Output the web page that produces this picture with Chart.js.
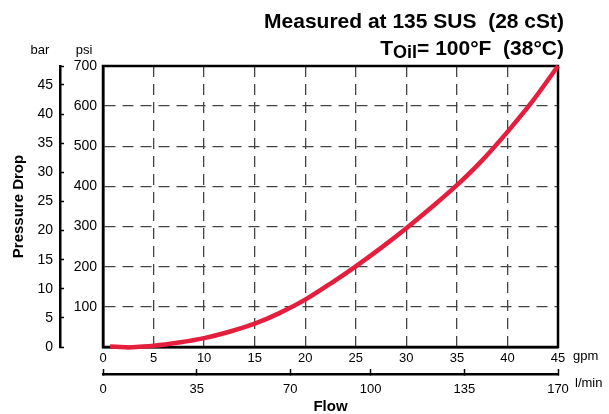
<!DOCTYPE html>
<html>
<head>
<meta charset="utf-8">
<script src="https://cdn.jsdelivr.net/npm/chart.js@4.4.1/dist/chart.umd.min.js"></script>
<style>
  html, body { margin: 0; padding: 0; background: #fff; }
  #wrap { width: 609px; height: 414px; }
</style>
</head>
<body>
<div id="wrap"><canvas class="js-pressuredrop"></canvas></div>
<script>
// values
const flowGpm = [0.7, 2.5, 5, 7.5, 10, 12.5, 15, 17.5, 20, 22.5, 25, 27.5, 30, 32.5, 35, 37.5, 40, 42.5, 45];
const pressurePsi = [1, -1, 3, 11, 22, 38, 58, 85, 118, 158, 201, 247, 296, 348, 403, 465, 536, 613, 700];

const barTicks = [0, 5, 10, 15, 20, 25, 30, 35, 40, 45];
const lminTicks = [0, 35, 70, 100, 135, 170];
const psiPerBar = 14.5038;

const titleLine1 = "Measured at 135 SUS  (28 cSt)";
const titleLine2 = ["T", "Oil", "= 100°F  (38°C)"];

const FONT = "'Liberation Sans', Arial, Helvetica, sans-serif";

const extras = {
  id: "extras",
  beforeDatasetsDraw(chart) {
    const { ctx, chartArea: a } = chart;
    ctx.save();
    ctx.strokeStyle = "#000";
    ctx.lineWidth = 2.5;
    ctx.strokeRect(a.left, a.top, a.right - a.left, a.bottom - a.top);
    ctx.restore();
  },
  afterDraw(chart) {
    const { ctx, chartArea: a, scales } = chart;
    ctx.save();
    ctx.fillStyle = "#000";

    // title
    const right = 564;
    ctx.textAlign = "right";
    ctx.textBaseline = "alphabetic";
    ctx.font = "bold 21px " + FONT;
    ctx.fillText(titleLine1, right, 28);

    let x = right;
    ctx.fillText(titleLine2[2], x, 55);
    x -= ctx.measureText(titleLine2[2]).width;
    ctx.font = "bold 18px " + FONT;
    ctx.fillText(titleLine2[1], x, 57.5);
    x -= ctx.measureText(titleLine2[1]).width;
    ctx.font = "bold 21px " + FONT;
    ctx.fillText(titleLine2[0], x, 55);

    // unit labels
    ctx.font = "13px " + FONT;
    ctx.textAlign = "center";
    ctx.textBaseline = "middle";
    ctx.fillText("bar", scales.y2.right - 20, a.top - 16);
    ctx.fillText("psi", scales.y.right - 19, a.top - 16);

    ctx.textAlign = "left";
    ctx.fillText("gpm", scales.x.right + 15, a.bottom + 9);
    ctx.fillText("l/min", scales.x2.right + 17, scales.x2.top + 9);
    ctx.restore();
  }
};

const chartpressure = function () {
  const canvas = document.querySelector(".js-pressuredrop");
  new Chart(canvas, {
    type: "line",
    data: {
      datasets: [
        {
          data: flowGpm.map((g, i) => ({ x: g, y: pressurePsi[i] })),
          borderColor: "#e41e3c",
          borderWidth: 4.5,
          pointRadius: 0,
          cubicInterpolationMode: "monotone",
          xAxisID: "x",
          yAxisID: "y",
          clip: 8,
        },
      ],
    },
    options: {
      responsive: true,
      maintainAspectRatio: false,
      animation: false,
      layout: { padding: { top: 66, right: 51, left: 8, bottom: 0 } },
      plugins: {
        legend: { display: false },
        tooltip: { enabled: false },
      },
      scales: {
        x: {
          type: "linear",
          position: "bottom",
          weight: 0,
          min: 0,
          max: 45,
          ticks: { stepSize: 5, color: "#000", padding: 4, font: { family: FONT, size: 13 } },
          grid: { color: "#444", lineWidth: 1.3, drawTicks: false },
          border: { color: "#000", width: 2.5, dash: [11, 7] },
          afterFit(s) { s.height = 27; },
        },
        x2: {
          type: "linear",
          position: "bottom",
          weight: 1,
          min: 0,
          max: 170,
          afterBuildTicks(s) { s.ticks = lminTicks.map((v) => ({ value: v })); },
          ticks: { color: "#000", padding: 13, font: { family: FONT, size: 13 } },
          grid: { drawOnChartArea: false, drawTicks: true, tickLength: -5, tickColor: "#000", tickWidth: 1.5 },
          border: { color: "#000", width: 2.5 },
          title: { display: true, text: "Flow", color: "#000", font: { family: FONT, size: 15, weight: "bold", lineHeight: 1.0 }, padding: { top: 0, bottom: 0 } },
          afterFit(s) { s.height = 40; },
        },
        y: {
          type: "linear",
          position: "left",
          weight: 0,
          min: 0,
          max: 700,
          ticks: {
            stepSize: 100,
            color: "#000",
            padding: 6,
            font: { family: FONT, size: 14 },
            callback: (v) => (v === 0 ? "" : v),
          },
          grid: { color: "#444", lineWidth: 1.3, drawTicks: false },
          border: { color: "#000", width: 2.5, dash: [11, 7] },
          afterFit(s) { s.width = 43; },
        },
        y2: {
          type: "linear",
          position: "left",
          weight: 1,
          min: 0,
          max: 700 / psiPerBar,
          afterBuildTicks(s) { s.ticks = barTicks.concat([s.max]).map((v) => ({ value: v })); },
          ticks: {
            color: "#000",
            padding: 11,
            font: { family: FONT, size: 14 },
            callback: (v) => (barTicks.includes(v) ? v : ""),
          },
          grid: { drawOnChartArea: false, drawTicks: true, tickLength: -4, tickColor: "#000", tickWidth: 1.5 },
          border: { color: "#000", width: 2.5 },
          title: { display: true, text: "Pressure Drop", color: "#000", font: { family: FONT, size: 15, weight: "bold" }, padding: { top: 2, bottom: 0 } },
          afterFit(s) { s.width = 52; },
        },
      },
    },
    plugins: [extras],
  });
};

const init = function () {
  chartpressure();
};

document.addEventListener("DOMContentLoaded", init);
</script>
</body>
</html>
